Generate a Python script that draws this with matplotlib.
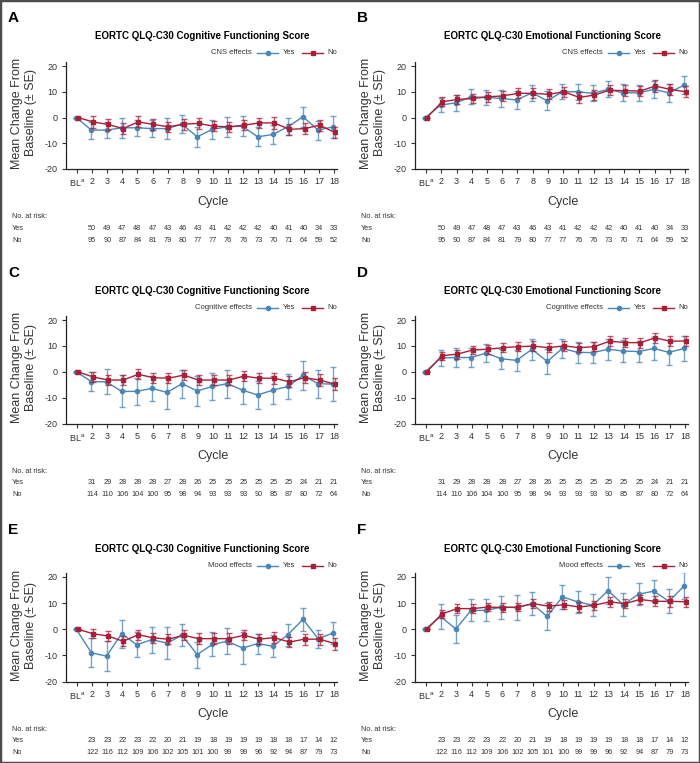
import matplotlib
matplotlib.use('Agg')
import matplotlib.pyplot as plt
from matplotlib.lines import Line2D
from matplotlib.patches import Rectangle
from matplotlib import transforms

plt.rcParams['font.family'] = ['Liberation Sans', 'DejaVu Sans']
plt.rcParams['mathtext.default'] = 'regular'
plt.rcParams['axes.unicode_minus'] = False

cycles = ['BL', '2', '3', '4', '5', '6', '7', '8', '9', '10', '11', '12', '13', '14', '15', '16', '17', '18']

# panel A - CNS effects, cognitive
a_yes = [0, -4.9, -4.9, -4.0, -4.0, -4.3, -4.3, -2.6, -7.5, -4.6, -3.6, -3.4, -7.5, -6.6, -3.6, 0.3, -4.9, -3.6]
a_yes_se = [0, 3.3, 3.2, 4.0, 3.2, 3.2, 4.2, 3.4, 3.9, 3.6, 3.9, 3.9, 3.7, 3.7, 3.3, 3.9, 3.7, 4.2]
a_no = [0, -1.7, -2.7, -4.3, -1.7, -2.7, -3.6, -2.6, -2.3, -3.4, -3.6, -3.0, -2.1, -2.1, -4.6, -4.3, -3.0, -5.8]
a_no_se = [0, 2.2, 2.0, 2.0, 2.1, 2.0, 2.0, 2.1, 2.2, 2.0, 2.0, 2.0, 2.1, 2.2, 2.1, 2.2, 2.2, 2.3]

# panel B - CNS effects, emotional
b_yes = [0, 4.8, 5.7, 8.0, 7.8, 7.4, 6.8, 9.6, 6.5, 10.0, 10.0, 9.4, 10.9, 9.6, 9.6, 10.9, 9.6, 12.6]
b_yes_se = [0, 2.7, 3.2, 2.9, 2.9, 3.2, 3.4, 3.1, 3.7, 3.0, 3.2, 3.1, 3.1, 3.3, 3.0, 3.2, 3.6, 3.4]
b_no = [0, 6.1, 7.0, 7.4, 8.0, 8.4, 9.4, 9.4, 9.0, 10.0, 7.8, 8.7, 10.6, 10.4, 10.3, 12.2, 10.9, 10.0]
b_no_se = [0, 1.8, 1.8, 1.9, 1.9, 1.9, 2.0, 2.0, 1.9, 2.0, 2.0, 2.0, 2.0, 2.1, 2.1, 2.2, 2.2, 2.2]

# panel C - cognitive effects, cognitive
c_yes = [0, -3.8, -3.9, -7.6, -7.6, -6.4, -8.0, -4.6, -7.4, -5.7, -4.6, -7.1, -9.0, -7.1, -5.7, -1.4, -4.6, -4.8]
c_yes_se = [0, 3.7, 4.8, 6.2, 5.1, 4.8, 6.4, 5.4, 5.7, 5.1, 5.4, 5.5, 5.3, 5.4, 4.8, 5.5, 5.4, 6.6]
c_no = [0, -2.0, -3.2, -3.2, -1.0, -2.3, -2.5, -1.3, -3.2, -3.2, -3.2, -1.7, -2.5, -2.5, -3.9, -2.3, -3.2, -4.8]
c_no_se = [0, 1.9, 1.9, 1.9, 1.9, 1.9, 2.0, 2.0, 2.0, 2.0, 2.0, 2.0, 2.0, 2.1, 2.1, 2.2, 2.2, 2.2]

# panel D - cognitive effects, emotional
d_yes = [0, 5.3, 5.5, 5.5, 7.2, 5.0, 4.4, 8.7, 4.0, 9.0, 7.5, 7.4, 8.7, 8.0, 7.8, 9.0, 7.5, 9.0]
d_yes_se = [0, 3.1, 3.5, 3.5, 3.6, 3.8, 4.0, 4.1, 4.7, 3.8, 4.0, 4.1, 4.1, 4.1, 4.0, 4.3, 4.7, 4.7]
d_no = [0, 6.2, 6.8, 8.4, 8.7, 9.3, 9.7, 9.9, 9.3, 10.0, 9.3, 9.7, 11.8, 11.3, 11.2, 13.1, 11.8, 11.9]
d_no_se = [0, 1.6, 1.7, 1.7, 1.7, 1.7, 1.8, 1.8, 1.8, 1.8, 1.8, 1.8, 1.9, 1.9, 1.9, 2.0, 2.0, 2.0]

# panel E - mood effects, cognitive
e_yes = [0, -9.0, -10.3, -1.7, -5.9, -4.0, -5.3, -2.3, -9.7, -5.8, -4.6, -7.2, -5.5, -6.5, -2.1, 3.8, -3.6, -1.4]
e_yes_se = [0, 5.6, 5.7, 5.3, 4.8, 4.9, 6.0, 4.3, 5.0, 4.6, 5.0, 6.2, 3.8, 4.2, 4.2, 4.5, 3.5, 4.2]
e_no = [0, -1.7, -2.6, -4.6, -2.1, -3.3, -3.8, -2.3, -3.6, -3.6, -3.6, -2.3, -3.8, -3.2, -4.9, -3.8, -3.8, -5.5]
e_no_se = [0, 1.8, 1.8, 1.9, 1.9, 1.9, 1.9, 1.9, 2.0, 2.0, 2.0, 2.0, 2.0, 2.0, 2.0, 2.1, 2.1, 2.3]

# panel F - mood effects, emotional
f_yes = [0, 4.9, 0.1, 7.2, 7.2, 8.5, 8.3, 9.8, 4.9, 12.4, 10.5, 9.2, 14.8, 9.4, 13.4, 14.6, 10.7, 16.6]
f_yes_se = [0, 4.8, 5.5, 4.2, 4.2, 4.4, 4.8, 4.3, 5.2, 4.5, 4.2, 4.2, 5.1, 4.5, 4.2, 4.2, 4.6, 5.2]
f_no = [0, 5.9, 7.9, 7.9, 8.5, 8.3, 8.5, 9.8, 8.8, 9.4, 8.5, 9.2, 10.5, 9.8, 11.4, 10.7, 10.7, 10.5]
f_no_se = [0, 1.6, 1.6, 1.7, 1.7, 1.7, 1.7, 1.7, 1.8, 1.8, 1.8, 1.8, 1.8, 1.8, 1.9, 1.9, 2.0, 2.0]

# numbers at risk (cycles 2-18)
cns_yes_n = [50, 49, 47, 48, 47, 43, 46, 43, 41, 42, 42, 42, 40, 41, 40, 34, 33]
cns_no_n = [95, 90, 87, 84, 81, 79, 80, 77, 77, 76, 76, 73, 70, 71, 64, 59, 52]
cog_yes_n = [31, 29, 28, 28, 28, 27, 28, 26, 25, 25, 25, 25, 25, 25, 24, 21, 21]
cog_no_n = [114, 110, 106, 104, 100, 95, 98, 94, 93, 93, 93, 90, 85, 87, 80, 72, 64]
mood_yes_n = [23, 23, 22, 23, 22, 20, 21, 19, 18, 19, 19, 19, 18, 18, 17, 14, 12]
mood_no_n = [122, 116, 112, 109, 106, 102, 105, 101, 100, 99, 99, 96, 92, 94, 87, 79, 73]

cog_title = 'EORTC QLQ-C30 Cognitive Functioning Score'
emo_title = 'EORTC QLQ-C30 Emotional Functioning Score'

panels = [
    ('A', cog_title, 'CNS effects', a_yes, a_yes_se, a_no, a_no_se, cns_yes_n, cns_no_n),
    ('B', emo_title, 'CNS effects', b_yes, b_yes_se, b_no, b_no_se, cns_yes_n, cns_no_n),
    ('C', cog_title, 'Cognitive effects', c_yes, c_yes_se, c_no, c_no_se, cog_yes_n, cog_no_n),
    ('D', emo_title, 'Cognitive effects', d_yes, d_yes_se, d_no, d_no_se, cog_yes_n, cog_no_n),
    ('E', cog_title, 'Mood effects', e_yes, e_yes_se, e_no, e_no_se, mood_yes_n, mood_no_n),
    ('F', emo_title, 'Mood effects', f_yes, f_yes_se, f_no, f_no_se, mood_yes_n, mood_no_n),
]

BLUE = '#4a86b8'
RED = '#a82038'
TXT = '#333333'

W, H = 700, 763
fig = plt.figure(figsize=(W / 100, H / 100), dpi=100)


def fx(x):
    return x / W


def fy(y):
    return 1 - y / H


col_x = [(66, 337), (415, 688)]
row_yb = [169, 423.5, 681.5]
row_y20 = [66, 320, 577]
col_letter_x = [8, 357]

for i, (letter, title, group, yes, yes_se, no, no_se, n_yes, n_no) in enumerate(panels):
    r, c = divmod(i, 2)
    xl, xr = col_x[c]
    yb = row_yb[r]
    ppu = (yb - row_y20[r]) / 40.0
    yt = yb - 41.5 * ppu
    ax = fig.add_axes([fx(xl), fy(yb), (xr - xl) / W, (yb - yt) / H])

    xs = list(range(len(cycles)))
    xy = [x - 0.05 for x in xs]
    xn = [x + 0.05 for x in xs]
    eb = ax.errorbar(xy, yes, yerr=yes_se, color=BLUE, lw=1.0, marker='o', ms=3,
                     ecolor=BLUE, elinewidth=1.0, capsize=2.5, capthick=1.0, zorder=3)
    for art in eb[1] + eb[2]:
        art.set_alpha(0.75)
    eb = ax.errorbar(xn, no, yerr=no_se, color=RED, lw=1.0, marker='s', ms=2.5,
                     ecolor=RED, elinewidth=1.0, capsize=2.5, capthick=1.0, zorder=4)
    for art in eb[1] + eb[2]:
        art.set_alpha(0.75)

    ax.set_xlim(-0.73, 17.2)
    ax.set_ylim(-20, 21.5)
    ax.set_yticks([-20, -10, 0, 10, 20])
    ax.set_xticks(xs)
    ax.set_xticklabels([r'BL$^{a}$'] + cycles[1:])
    ax.tick_params(labelsize=6.5, colors=TXT, length=3, width=0.8, pad=3)
    for s in ['top', 'right']:
        ax.spines[s].set_visible(False)
    for s in ['left', 'bottom']:
        ax.spines[s].set_linewidth(0.9)
        ax.spines[s].set_color('#222222')
    ax.patch.set_alpha(0)

    xm = (xl + xr) / 2
    # panel letter and title
    fig.text(fx(col_letter_x[c]), fy(yb - 151), letter, fontsize=11, fontweight='bold',
             ha='left', va='center')
    fig.text(fx(xm + 1), fy(yb - 133), title, fontsize=7, fontweight='bold',
             ha='center', va='center')

    # y label
    fig.text(fx(xl - 42), fy(yb - 56), 'Mean Change From\nBaseline (± SE)', fontsize=9,
             rotation=90, ha='center', va='center', color=TXT, linespacing=1.15)

    # legend drawn inline
    ly = fy(yb - 116)
    fig.text(fx(xr - 85), ly, group, fontsize=5.5, ha='right', va='center', color=TXT)
    fig.add_artist(Line2D([fx(xr - 80), fx(xr - 69.5), fx(xr - 59)], [ly, ly, ly], color=BLUE,
                          lw=1.0, marker='o', ms=3, markevery=[1], transform=fig.transFigure))
    fig.text(fx(xr - 54), ly, 'Yes', fontsize=5.5, ha='left', va='center', color=TXT)
    fig.add_artist(Line2D([fx(xr - 35), fx(xr - 24.5), fx(xr - 14)], [ly, ly, ly], color=RED,
                          lw=1.0, marker='s', ms=2.5, markevery=[1], transform=fig.transFigure))
    fig.text(fx(xr - 10), ly, 'No', fontsize=5.5, ha='left', va='center', color=TXT)

    # x label
    fig.text(fx(xm + 12), fy(yb + 33), 'Cycle', fontsize=9, ha='center', va='center', color=TXT)

    # numbers at risk
    fig.text(fx(col_letter_x[c] + 4), fy(yb + 48), 'No. at risk:', fontsize=5.3, ha='left',
             va='center', color=TXT)
    fig.text(fx(col_letter_x[c] + 4), fy(yb + 59), 'Yes', fontsize=5.3, ha='left',
             va='center', color=TXT)
    fig.text(fx(col_letter_x[c] + 4), fy(yb + 71), 'No', fontsize=5.3, ha='left',
             va='center', color=TXT)
    tr = transforms.blended_transform_factory(ax.transData, fig.transFigure)
    for k in range(len(n_yes)):
        ax.text(xs[k + 1], fy(yb + 59), str(n_yes[k]), transform=tr, fontsize=5.3,
                ha='center', va='center', color=TXT, clip_on=False)
        ax.text(xs[k + 1], fy(yb + 71), str(n_no[k]), transform=tr, fontsize=5.3,
                ha='center', va='center', color=TXT, clip_on=False)

# outer frame
fig.add_artist(Rectangle((0, 0), 1, 1, transform=fig.transFigure, fill=False,
                         edgecolor='#4d4d4d', lw=2.5))

fig.savefig('out.png', dpi=100)
